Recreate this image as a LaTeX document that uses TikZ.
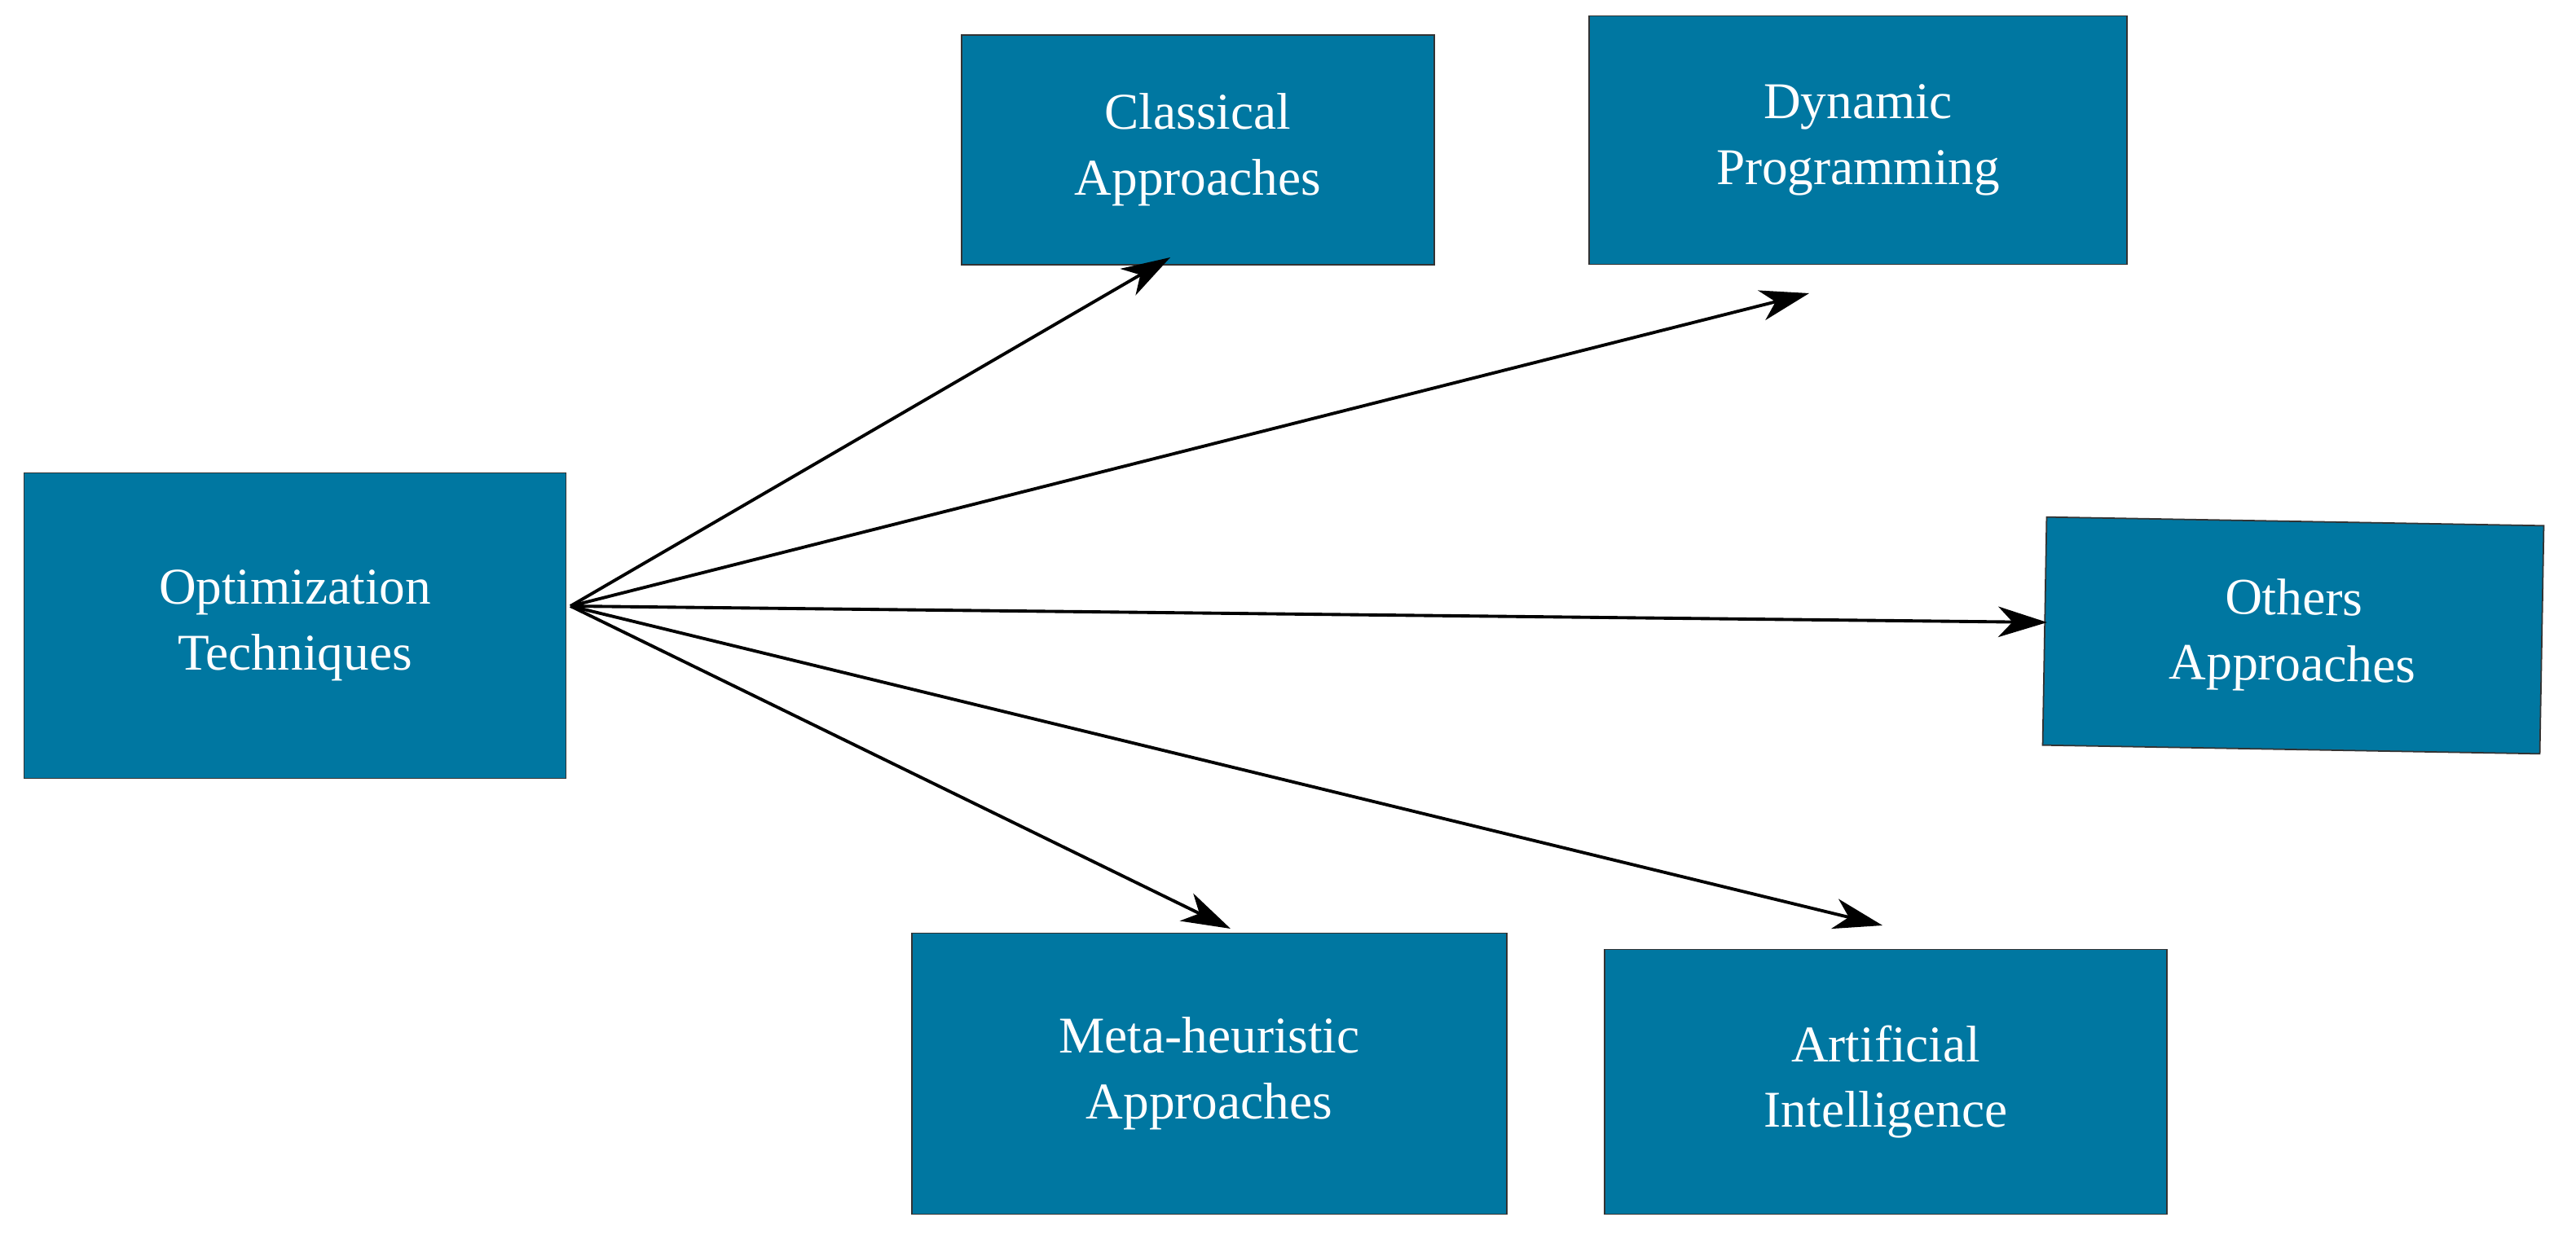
\documentclass[tikz,border=0pt]{standalone}
\usepackage{fontspec}
\setmainfont{Liberation Serif}
\usetikzlibrary{arrows.meta}
\definecolor{boxblue}{HTML}{0077A1}
\begin{document}
\begin{tikzpicture}[x=0.04cm,y=-0.04cm,
  box/.style={draw=black!80,line width=1pt,fill=boxblue,text=white,align=center,inner sep=0pt,
    font=\fontsize{36}{46}\selectfont},
  arr/.style={line width=2.2pt,-{Stealth[length=1.2cm,width=0.75cm,inset=0.35cm]}}]
\useasboundingbox (0,0) rectangle (1580.5,766);
\node[box,minimum width=13.3cm,minimum height=7.5cm] (opt) at (181,384) {Optimization\\Techniques};
\node[box,minimum width=11.6cm,minimum height=5.64cm] (cla) at (735,92) {Classical\\Approaches};
\node[box,minimum width=13.2cm,minimum height=6.1cm] (dyn) at (1140,86) {Dynamic\\Programming};
\node[box,minimum width=12.2cm,minimum height=5.6cm,rotate=-1] (oth) at (1407,390) {Others\\Approaches};
\node[box,minimum width=14.6cm,minimum height=6.9cm] (met) at (742,659) {Meta-heuristic\\Approaches};
\node[box,minimum width=13.8cm,minimum height=6.5cm] (art) at (1157,664) {Artificial\\Intelligence};
\coordinate (src) at (350,372);
\coordinate (e1) at (718,158);
\coordinate (e2) at (1110,180);
\coordinate (e3) at (1256,382);
\coordinate (e4) at (755,570);
\coordinate (e5) at (1155,568);
\draw[arr] (src) -- (e1);
\draw[arr] (src) -- (e2);
\draw[arr] (src) -- (e3);
\draw[arr] (src) -- (e4);
\draw[arr] (src) -- (e5);
\end{tikzpicture}
\end{document}
